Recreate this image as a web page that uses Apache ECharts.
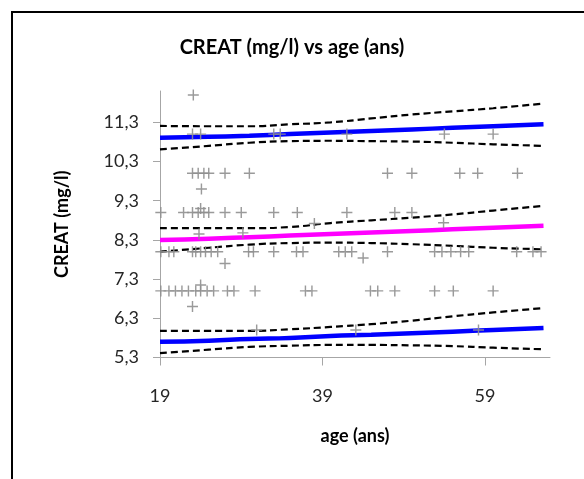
<!DOCTYPE html>
<html>
<head>
<meta charset="utf-8">
<script src="https://cdn.jsdelivr.net/npm/echarts@6/dist/echarts.min.js"></script>
<style>
  html, body { margin: 0; padding: 0; background: #fff; }
  #chart { width: 584px; height: 479px; }
</style>
</head>
<body>
<div id="chart"></div>
<script>
// scatter points, grouped by CREAT level: [age, creat]
const row12 = [[23.1, 12]];
const row11 = [[23, 11], [24, 11], [33, 11], [33.8, 11], [42, 11], [54, 11], [60, 11]];
const row10 = [[23, 10], [23.7, 10], [24.4, 10], [25, 10], [27, 10], [30, 10], [47, 10], [50, 10], [55.9, 10], [58.1, 10], [63, 10]];
const row9 = [[19.1, 9], [21.9, 9], [23, 9], [23.7, 9], [24.4, 9], [25, 9], [27, 9], [29, 9], [33, 9], [35.9, 9], [42, 9], [47.9, 9], [50, 9]];
const row8 = [[19.1, 8], [20.1, 8], [20.7, 8], [23, 8], [23.4, 8], [24, 8], [24.6, 8], [25.3, 8], [26.1, 8], [29.9, 8], [30.5, 8], [33, 8],
  [35.8, 8], [36.6, 8], [41, 8], [41.8, 8], [42.6, 8], [47, 8], [52.8, 8], [53.7, 8], [54.8, 8], [56, 8], [57, 8], [62.9, 8], [64.9, 8], [65.9, 8]];
const row7 = [[19.1, 7], [20.1, 7], [20.9, 7], [21.7, 7], [22.5, 7], [23.4, 7], [24, 7], [24.8, 7], [25.6, 7], [27.3, 7], [28.1, 7], [30.7, 7],
  [36.9, 7], [37.7, 7], [44.9, 7], [45.8, 7], [47.9, 7], [52.8, 7], [55.1, 7], [60, 7]];
const others = [[24.1, 9.6], [24, 9.1], [23.8, 8.45], [29.2, 8.48], [38, 8.72], [53.9, 8.74], [27, 7.7], [44, 7.84],
  [24, 7.15], [23, 6.6], [30.9, 6.0], [43.1, 6.0], [58.2, 6.0]];

// fitted curves sampled at these ages
const fitAges = [19, 25, 30, 35, 40, 45, 50, 55, 60, 66.2];
const highFit = [10.91, 10.93, 10.96, 11.0, 11.04, 11.08, 11.12, 11.16, 11.2, 11.25];
const highUp = [11.21, 11.2, 11.2, 11.25, 11.3, 11.4, 11.5, 11.58, 11.66, 11.78];
const highLow = [10.61, 10.7, 10.78, 10.82, 10.83, 10.82, 10.81, 10.78, 10.74, 10.7];
const midFit = [8.3, 8.33, 8.37, 8.41, 8.45, 8.49, 8.53, 8.57, 8.61, 8.66];
const midUp = [8.6, 8.6, 8.6, 8.63, 8.73, 8.8, 8.87, 8.95, 9.05, 9.17];
const midLow = [8.0, 8.1, 8.18, 8.22, 8.23, 8.22, 8.19, 8.15, 8.1, 8.06];
const lowFit = [5.7, 5.73, 5.77, 5.8, 5.85, 5.88, 5.92, 5.96, 6.0, 6.05];
const lowUp = [5.98, 5.98, 5.98, 6.02, 6.08, 6.15, 6.24, 6.35, 6.45, 6.56];
const lowLow = [5.41, 5.5, 5.57, 5.6, 5.62, 5.62, 5.61, 5.59, 5.55, 5.51];

const xTicks = [19, 39, 59];
const yTicks = [5.3, 6.3, 7.3, 8.3, 9.3, 10.3, 11.3];

const font = 'Lato';
const points = [].concat(row12, row11, row10, row9, row8, row7, others);
const pair = (ys) => fitAges.map((a, i) => [a, ys[i]]);

const fitLine = (ys, color) => ({
  type: 'line', data: pair(ys), showSymbol: false, smooth: true, silent: true,
  lineStyle: { color: color, width: 4.5 }, z: 3
});
const bandLine = (ys) => ({
  type: 'line', data: pair(ys), showSymbol: false, smooth: true, silent: true,
  lineStyle: { color: '#000', width: 2.2, type: [7, 4] }, z: 3
});

const nameStyle = { fontFamily: font, fontSize: 18, fontWeight: 'bold', color: '#000' };

const chart = echarts.init(document.getElementById('chart'));
chart.setOption({
  animation: false,
  textStyle: { fontFamily: font },
  title: {
    text: 'CREAT (mg/l) vs age (ans)', left: 'center', top: 33,
    textStyle: { fontFamily: font, fontSize: 20, fontWeight: 'bold', color: '#000' }
  },
  graphic: [{
    type: 'rect', shape: { x: 12, y: 12, width: 620, height: 520 },
    style: { fill: 'none', stroke: '#000', lineWidth: 2 }, silent: true
  }],
  grid: { left: 160, right: 34, top: 91, bottom: 121.5 },
  xAxis: {
    type: 'value', min: 19, max: 67,
    name: 'age (ans)', nameLocation: 'middle', nameGap: 70,
    nameTextStyle: nameStyle,
    axisLine: { lineStyle: { color: '#a6a6a6', width: 1 } },
    axisTick: { show: true, length: 8, customValues: xTicks, lineStyle: { color: '#a6a6a6' } },
    axisLabel: { customValues: xTicks, margin: 30, fontSize: 18, color: '#262626', fontFamily: font },
    splitLine: { show: false }
  },
  yAxis: {
    type: 'value', min: 5.3, max: 12.1,
    name: 'CREAT (mg/l)', nameLocation: 'middle', nameGap: 89,
    nameTextStyle: nameStyle,
    axisLine: { show: true, lineStyle: { color: '#a6a6a6', width: 1 } },
    axisTick: { show: true, length: 7, customValues: yTicks, lineStyle: { color: '#a6a6a6' } },
    axisLabel: {
      customValues: yTicks, margin: 21, fontSize: 18, color: '#262626', fontFamily: font,
      formatter: (v) => v.toFixed(1).replace('.', ',')
    },
    splitLine: { show: false }
  },
  series: [
    fitLine(highFit, '#0000ff'), bandLine(highUp), bandLine(highLow),
    fitLine(midFit, '#ff00ff'), bandLine(midUp), bandLine(midLow),
    fitLine(lowFit, '#0000ff'), bandLine(lowUp), bandLine(lowLow),
    {
      type: 'scatter', data: points, symbolSize: 11, z: 4,
      symbol: 'path://M4.35,0h1.3v4.35h4.35v1.3h-4.35v4.35h-1.3v-4.35h-4.35v-1.3h4.35z',
      itemStyle: { color: '#8f8f8f', opacity: 0.9 }
    }
  ]
});
</script>
</body>
</html>
